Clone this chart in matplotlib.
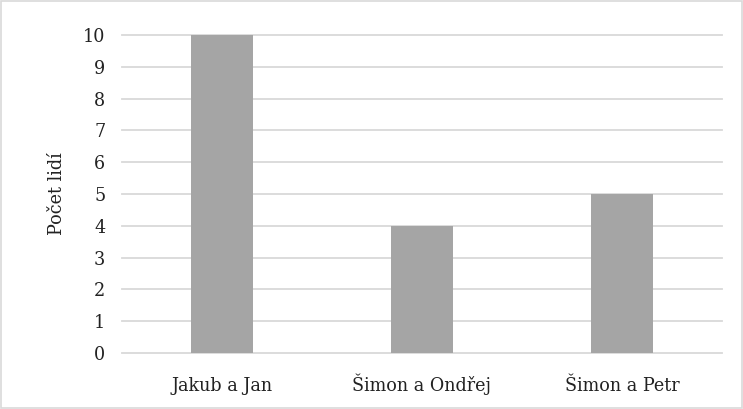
import matplotlib.pyplot as plt
from matplotlib.patches import Rectangle
from matplotlib import font_manager

categories = ['Jakub a Jan', 'Šimon a Ondřej', 'Šimon a Petr']
counts = [10, 4, 5]
y_ticks = list(range(0, 11))

print(sorted({(f.name, f.stretch) for f in font_manager.fontManager.ttflist if 'Serif' in f.name}))

plt.rcParams['font.family'] = ['DejaVu Serif']
plt.rcParams['font.stretch'] = 'condensed'

fig = plt.figure(figsize=(7.43, 4.09), dpi=100)
ax = fig.add_axes([0.1642, 0.1369, 0.8075, 0.7775])

x = range(len(categories))
ax.bar(x, counts, width=0.31, color='#A5A5A5', zorder=3)

ax.set_xlim(-0.5, len(categories) - 0.5)
ax.set_ylim(0, 10)
ax.set_yticks(y_ticks)
ax.set_xticks(list(x))
ax.set_xticklabels(categories, fontsize=14, color='#222222', va='baseline')
ax.tick_params(axis='y', labelsize=14, labelcolor='#222222', length=0, pad=12)
ax.tick_params(axis='x', length=0, pad=27)
ax.set_ylabel('Počet lidí', fontsize=14, color='#222222', labelpad=12)

ax.grid(axis='y', color='#D9D9D9', linewidth=1.3, zorder=0)
for gl in ax.get_ygridlines():
    gl.set_clip_on(False)
ax.set_axisbelow(True)
for s in ax.spines.values():
    s.set_visible(False)

fig.patches.append(Rectangle((0.002, 0.003), 0.996, 0.994, transform=fig.transFigure,
                             fill=False, edgecolor='#D9D9D9', linewidth=1.2))

fig.savefig('out.png', dpi=100)
